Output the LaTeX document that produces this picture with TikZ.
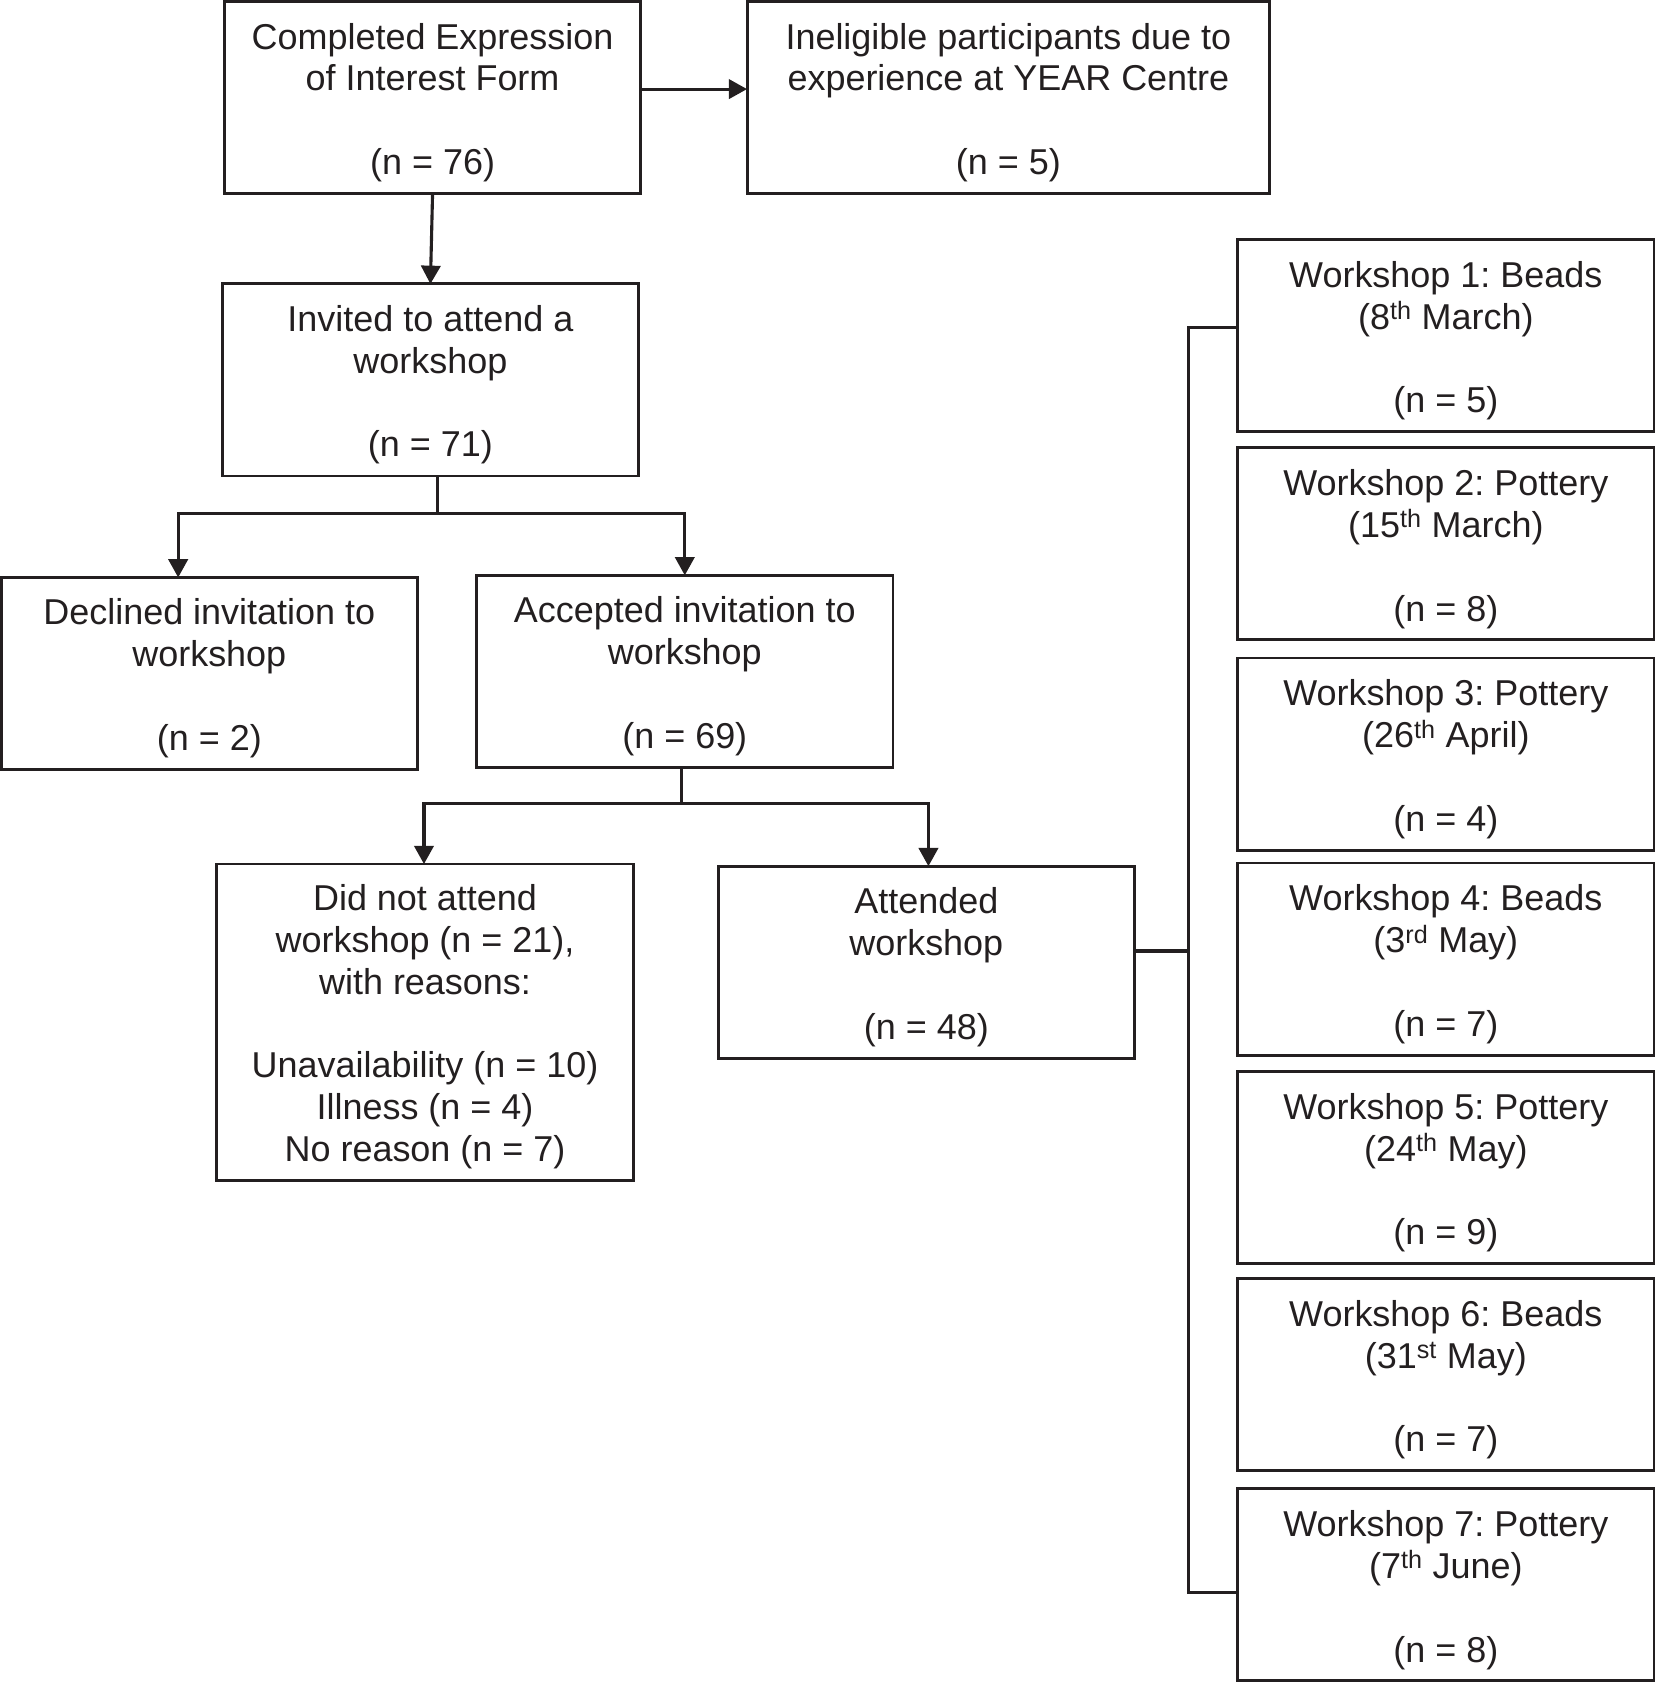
\documentclass[tikz,border=0pt]{standalone}
\usepackage{fontspec}
\setmainfont{Liberation Sans}
\usetikzlibrary{arrows.meta}
\definecolor{ink}{HTML}{231F20}
\frenchspacing
\begin{document}
\begin{tikzpicture}[x=1pt,y=-1pt,
  box/.style={draw=ink, line width=2.7pt, rectangle, minimum width=388pt,
    minimum height=179pt, inner sep=0pt, outer sep=0pt},
  txt/.style={align=center, text=ink, inner sep=0pt,
    font=\fontsize{33.5pt}{39pt}\selectfont\frenchspacing},
  conn/.style={draw=ink, line width=2.9pt},
  arr/.style={conn, -{Triangle[length=17pt,width=18pt]}}]
\useasboundingbox (0,0) rectangle (1545,1568);

\node[box] (c1) at (403,91) {};
\node[box, minimum width=487pt] (inel) at (939.5,91) {};
\node[box] (inv) at (401,354) {};
\node[box] (decl) at (195,627.5) {};
\node[box] (acc) at (638,625.5) {};
\node[box, minimum height=295pt] (did) at (396,952.5) {};
\node[box] (att) at (863,896.5) {};
\node[box] (w1) at (1347,312.5) {};
\node[box] (w2) at (1347,506.5) {};
\node[box] (w3) at (1347,702.5) {};
\node[box] (w4) at (1347,893.5) {};
\node[box] (w5) at (1347,1087.5) {};
\node[box] (w6) at (1347,1280.5) {};
\node[box] (w7) at (1347,1476.5) {};

\node[txt] (c1t) at ([yshift=-4.5pt]c1.center) {Completed Expression\\of Interest Form\\[39pt](n = 76)};
\node[txt] (inelt) at ([yshift=-4.5pt]inel.center) {Ineligible participants due to\\experience at YEAR Centre\\[39pt](n = 5)};
\node[txt] (invt) at ([yshift=-4.5pt]inv.center) {Invited to attend a\\workshop\\[39pt](n = 71)};
\node[txt] (declt) at ([yshift=-4.5pt]decl.center) {Declined invitation to\\workshop\\[39pt](n = 2)};
\node[txt] (acct) at ([yshift=-4.5pt]acc.center) {Accepted invitation to\\workshop\\[39pt](n = 69)};
\node[txt] (didt) at ([yshift=-4pt]did.center) {Did not attend\\workshop (n = 21),\\with reasons:\\[39pt]Unavailability (n = 10)\\Illness (n = 4)\\No reason (n = 7)};
\node[txt] (attt) at ([yshift=-4.5pt]att.center) {Attended\\workshop\\[39pt](n = 48)};
\node[txt] (w1t) at ([yshift=-5pt]w1.center) {Workshop 1: Beads\\(8\textsuperscript{th} March)\\[39pt](n = 5)};
\node[txt] (w2t) at ([yshift=-5pt]w2.center) {Workshop 2: Pottery\\(15\textsuperscript{th} March)\\[39pt](n = 8)};
\node[txt] (w3t) at ([yshift=-5pt]w3.center) {Workshop 3: Pottery\\(26\textsuperscript{th} April)\\[39pt](n = 4)};
\node[txt] (w4t) at ([yshift=-5pt]w4.center) {Workshop 4: Beads\\(3\textsuperscript{rd} May)\\[39pt](n = 7)};
\node[txt] (w5t) at ([yshift=-5pt]w5.center) {Workshop 5: Pottery\\(24\textsuperscript{th} May)\\[39pt](n = 9)};
\node[txt] (w6t) at ([yshift=-5pt]w6.center) {Workshop 6: Beads\\(31\textsuperscript{st} May)\\[39pt](n = 7)};
\node[txt] (w7t) at ([yshift=-5pt]w7.center) {Workshop 7: Pottery\\(7\textsuperscript{th} June)\\[39pt](n = 8)};

% top connectors
\coordinate (a1) at (597,83);
\draw[arr] (a1) -- (a1 -| inel.west);
\draw[arr] (c1.south) -- (inv.north);

% invited branch
\coordinate (j1) at (408,478);
\coordinate (dj) at (166,478);
\draw[conn] (j1 |- inv.south) -- (j1);
\draw[arr] (j1) -- (dj) -- (dj |- decl.north);
\draw[arr] (j1) -- (j1 -| acc.north) -- (acc.north);

% accepted branch
\coordinate (j2) at (635,749);
\coordinate (dl) at (395,749);
\coordinate (dr) at (865,749);
\draw[conn] (j2 |- acc.south) -- (j2);
\draw[arr] (j2) -- (dl) -- (dl |- did.north);
\draw[arr] (j2) -- (dr) -- (dr |- att.north);

% attended to workshops bus
\coordinate (b0) at (1107,886);
\coordinate (bt) at (1107,305);
\coordinate (bb) at (1107,1484);
\draw[conn] (b0 -| att.east) -- (b0);
\draw[conn] (bt -| w1.west) -- (bt) -- (bb) -- (bb -| w7.west);
\end{tikzpicture}
\end{document}
